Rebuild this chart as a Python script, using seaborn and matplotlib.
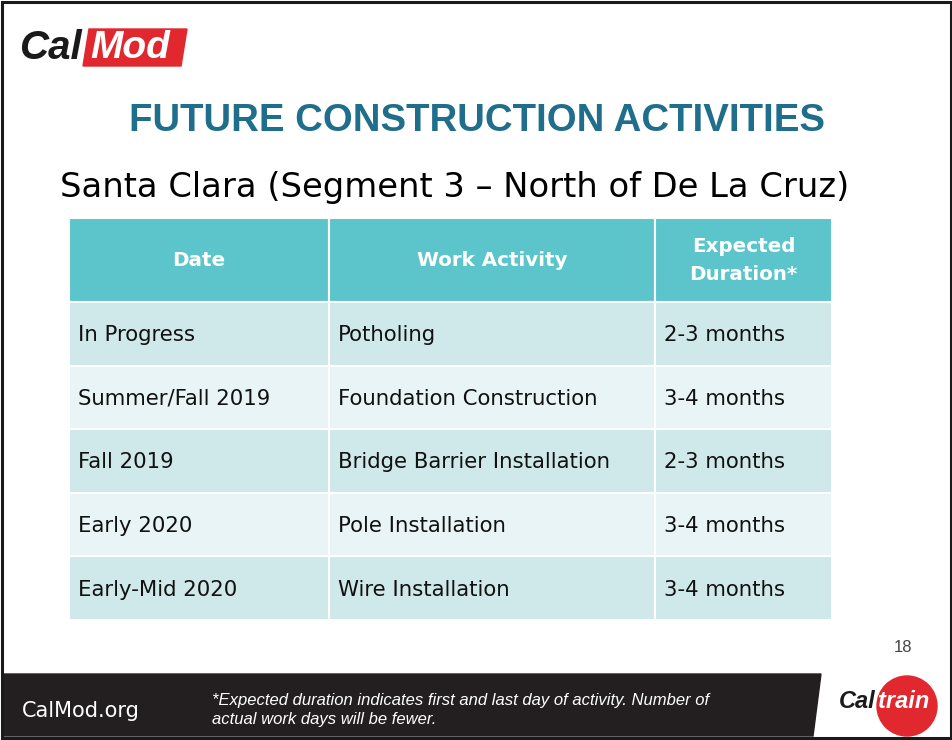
import matplotlib
matplotlib.use("Agg")
import matplotlib.pyplot as plt
import seaborn as sns
from matplotlib.patches import Rectangle, Polygon, Circle

# ---------------- data ----------------
title = "FUTURE CONSTRUCTION ACTIVITIES"
subtitle = "Santa Clara (Segment 3 \u2013 North of De La Cruz)"
headers = ["Date", "Work Activity", "Expected\nDuration*"]
dates = ["In Progress", "Summer/Fall 2019", "Fall 2019", "Early 2020", "Early-Mid 2020"]
activities = ["Potholing", "Foundation Construction", "Bridge Barrier Installation",
              "Pole Installation", "Wire Installation"]
durations = ["2-3 months", "3-4 months", "2-3 months", "3-4 months", "3-4 months"]
footnote = ("*Expected duration indicates first and last day of activity. Number of\n"
            "actual work days will be fewer.")
page_number = "18"
site = "CalMod.org"

# ---------------- style ----------------
sns.set_theme(style="white")
plt.rcParams["font.family"] = ["DejaVu Sans"]

W, H = 953, 740
fig = plt.figure(figsize=(W / 100, H / 100), dpi=100)
bg = fig.add_axes([0, 0, 1, 1])
bg.set_xlim(0, W)
bg.set_ylim(H, 0)
bg.axis("off")

# slide frame
bg.add_patch(Rectangle((2, 2), W - 4, H - 4, fill=False, lw=2.2, ec="#1a1a1a", zorder=10))

# CalMod logo
bg.text(19, 48, "Cal", fontsize=29, fontweight="heavy", style="italic",
        family="Liberation Sans", color="#1a1a1a", va="center", ha="left")
bg.add_patch(Polygon([(89, 29), (187, 29), (181, 66), (83, 66)], closed=True,
                     color="#E0282E", zorder=2))
bg.text(90, 48, "Mod", fontsize=28, fontweight="heavy", style="italic",
        family="Liberation Sans", color="white", va="center", ha="left", zorder=3)

# titles
bg.text(477, 121, title, fontsize=27.6, fontweight="bold", family="Liberation Sans",
        color="#1F6E8C", ha="center", va="center")
bg.text(60, 187, subtitle, fontsize=24.3, family="DejaVu Sans", color="black",
        ha="left", va="center")

# ---------------- table ----------------
col_edges = [69, 329, 655, 832]
top, header_bottom, bottom = 218, 302, 620
tab = fig.add_axes([col_edges[0] / W, 1 - bottom / H,
                    (col_edges[-1] - col_edges[0]) / W, (bottom - top) / H])
tab.set_xlim(col_edges[0], col_edges[-1])
row_h = (bottom - header_bottom) / len(dates)
hdr_h = header_bottom - top
tab.set_ylim(bottom, top)
tab.axis("off")

lefts = col_edges[:-1]
widths = [col_edges[i + 1] - col_edges[i] for i in range(3)]

# header row
tab.barh([top + hdr_h / 2] * 3, widths, left=lefts, height=hdr_h,
         color="#5BC5CB", edgecolor="white", linewidth=1.5)
for j, h in enumerate(headers):
    tab.text(lefts[j] + widths[j] / 2, top + hdr_h / 2 + 1, h, color="white",
             fontsize=14.3, fontweight="bold", ha="center", va="center",
             linespacing=1.6)

rows = list(zip(dates, activities, durations))
for i, row in enumerate(rows):
    yc = header_bottom + row_h * (i + 0.5)
    color = "#CFE8EA" if i % 2 == 0 else "#E8F4F5"
    tab.barh([yc] * 3, widths, left=lefts, height=row_h, color=color,
             edgecolor="white", linewidth=1.5)
    for j, txt in enumerate(row):
        tab.text(lefts[j] + 9, yc + 1.5, txt, color="#111111", fontsize=15.3,
                 ha="left", va="center")

# page number
bg.text(903, 647, page_number, fontsize=12, color="#444444", ha="center", va="center",
        family="Liberation Sans")

# footer bar
bg.add_patch(Polygon([(3, 674), (821, 674), (813, 736), (3, 736)], closed=True,
                     color="#231F20", zorder=3))
bg.text(22, 711, site, fontsize=15, color="white", ha="left", va="center", zorder=4,
        family="DejaVu Sans")
bg.text(212, 710, footnote, fontsize=12.0, style="italic", color="white", ha="left",
        va="center", zorder=4, family="Liberation Sans", linespacing=1.35)

# Caltrain logo
bg.add_patch(Circle((907, 706), 30, color="#E0282E", zorder=4))
bg.text(839, 701, "Cal", fontsize=17, fontweight="heavy", style="italic", color="#1a1a1a",
        family="Liberation Sans", ha="left", va="center", zorder=5)
bg.text(878, 701, "train", fontsize=17, fontweight="heavy", style="italic", color="white",
        family="Liberation Sans", ha="left", va="center", zorder=5)

fig.savefig("out.png", dpi=100)
